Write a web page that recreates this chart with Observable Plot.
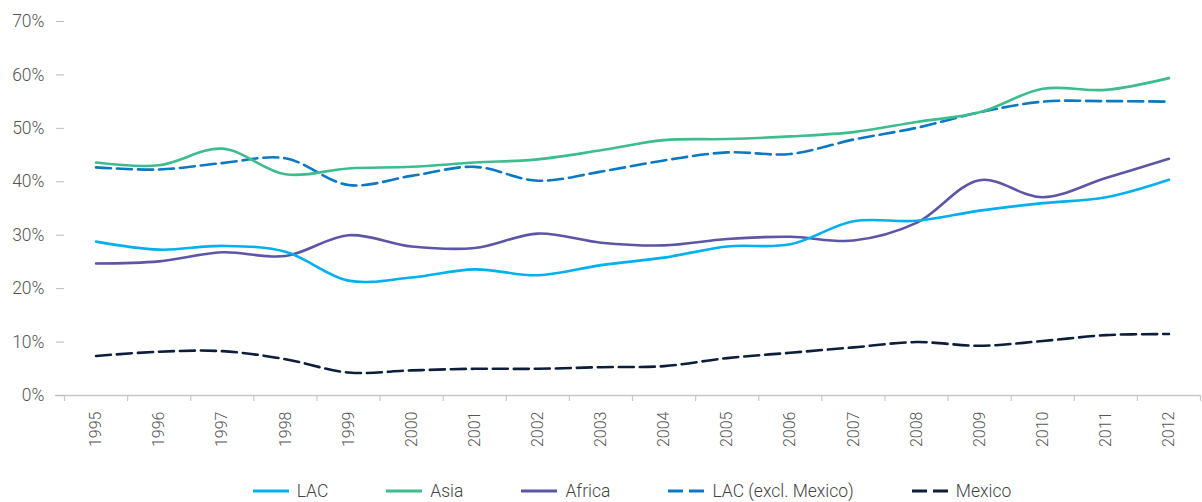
<!DOCTYPE html>
<html>
<head>
<meta charset="utf-8">
<script src="https://cdn.jsdelivr.net/npm/d3@7"></script>
<script src="https://cdn.jsdelivr.net/npm/@observablehq/plot@0.6"></script>
<style>
  html, body { margin: 0; padding: 0; background: #fff; overflow: hidden; }
  #chart { width: 1202px; }
  .legend { display: flex; justify-content: center; align-items: center; gap: 58px;
            margin-left: 64px; width: 1136px; height: 22px; margin-top: 20px;
            font-family: Roboto, "Open Sans", sans-serif; font-weight: 300; font-size: 17.5px; color: #444; }
  .legend .item { display: flex; align-items: center; }
  .legend svg { margin-right: 8px; }
</style>
</head>
<body>
<div id="chart"></div>
<script>
const years = [1995, 1996, 1997, 1998, 1999, 2000, 2001, 2002, 2003, 2004, 2005, 2006, 2007, 2008, 2009, 2010, 2011, 2012];
const lac      = [28.8, 27.3, 28.0, 26.9, 21.5, 22.1, 23.6, 22.5, 24.4, 25.8, 27.9, 28.3, 32.6, 32.7, 34.6, 36.0, 37.1, 40.4];
const asia     = [43.6, 43.1, 46.2, 41.4, 42.5, 42.8, 43.6, 44.2, 45.9, 47.8, 48.0, 48.5, 49.3, 51.2, 53.0, 57.4, 57.2, 59.4];
const africa   = [24.7, 25.1, 26.8, 26.1, 30.0, 27.9, 27.6, 30.3, 28.6, 28.1, 29.3, 29.7, 29.0, 32.3, 40.3, 37.1, 40.7, 44.3];
const lacExMex = [42.7, 42.3, 43.5, 44.4, 39.4, 41.1, 42.8, 40.2, 41.9, 44.0, 45.5, 45.2, 47.9, 50.1, 53.0, 55.0, 55.1, 55.0];
const mexico   = [7.4, 8.2, 8.3, 6.8, 4.3, 4.7, 5.0, 5.0, 5.3, 5.5, 7.0, 8.0, 9.0, 10.0, 9.3, 10.2, 11.3, 11.5];
const yTicks = [0, 10, 20, 30, 40, 50, 60, 70];

const series = [
  {name: "Mexico", values: mexico, color: "#0c1e3a", dash: "15,6"},
  {name: "LAC (excl. Mexico)", values: lacExMex, color: "#0a78c2", dash: "15,6"},
  {name: "Africa", values: africa, color: "#5b56a6", dash: null},
  {name: "Asia", values: asia, color: "#3dbd8d", dash: null},
  {name: "LAC", values: lac, color: "#00b0f0", dash: null}
];
const legendOrder = ["LAC", "Asia", "Africa", "LAC (excl. Mexico)", "Mexico"];

const bandEdges = years.map(y => y - 0.5).concat([years[years.length - 1] + 0.5]);
const font = "Roboto, 'Open Sans', sans-serif";

const chart = Plot.plot({
  width: 1202,
  height: 460,
  marginLeft: 64,
  marginRight: 2,
  marginTop: 21,
  marginBottom: 65,
  style: {fontFamily: font, fontSize: "17px", fontWeight: 300, color: "#555", background: "#fff", overflow: "visible"},
  x: {type: "linear", domain: [years[0] - 0.5, years[years.length - 1] + 0.5]},
  y: {domain: [0, 70]},
  marks: [
    Plot.ruleY([0], {x1: years[0] - 0.5 - 9 / 63.1, x2: years[years.length - 1] + 0.5, stroke: "#c8c8c8", strokeWidth: 1.6, clip: false}),
    Plot.axisX(bandEdges, {tickSize: 6, tickFormat: () => "", stroke: "#c8c8c8", strokeWidth: 1.2, label: null}),
    Plot.axisX(years, {tickSize: 0, tickRotate: -90, tickPadding: 16, fontSize: 16, tickFormat: d => String(d), fill: "#555", label: null}),
    Plot.axisY(yTicks, {tickSize: 8, tickPadding: 12, fontSize: 17.5, tickFormat: d => d + "%", stroke: "#bbb", fill: "#555", label: null}),
    ...series.map(s => Plot.line(years, {
      x: d => d,
      y: (d, i) => s.values[i],
      curve: "catmull-rom",
      stroke: s.color,
      strokeWidth: 2.6,
      strokeDasharray: s.dash
    }))
  ]
});
document.getElementById("chart").appendChild(chart);

const legend = document.createElement("div");
legend.className = "legend";
for (const name of legendOrder) {
  const s = series.find(d => d.name === name);
  const item = document.createElement("div");
  item.className = "item";
  const dash = s.dash ? `stroke-dasharray="15,6"` : "";
  item.innerHTML = `<svg width="36" height="6"><line x1="0" y1="3" x2="36" y2="3" stroke="${s.color}" stroke-width="3" ${dash}/></svg><span>${s.name}</span>`;
  legend.appendChild(item);
}
document.getElementById("chart").appendChild(legend);
</script>
</body>
</html>
